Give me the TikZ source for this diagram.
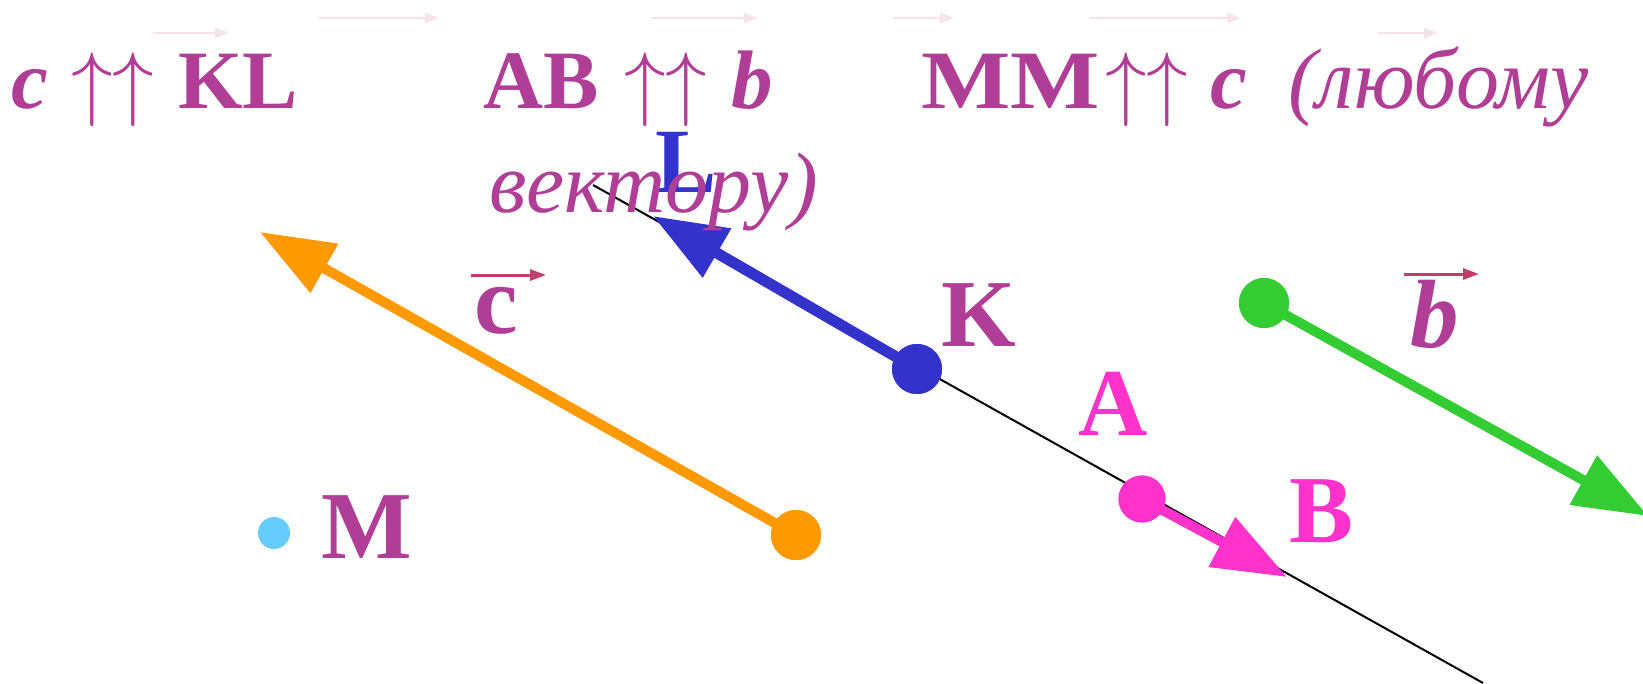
\documentclass[tikz,border=0pt]{standalone}
\usepackage{graphicx}
\usepackage{fontspec}
\setmainfont{Liberation Serif}
\usetikzlibrary{arrows.meta}
\definecolor{txt}{RGB}{176,62,150}
\definecolor{barC}{RGB}{192,62,104}
\definecolor{faint}{RGB}{245,228,236}
\definecolor{orangeC}{RGB}{255,153,0}
\definecolor{blueC}{RGB}{51,51,204}
\definecolor{pinkC}{RGB}{255,51,204}
\definecolor{greenC}{RGB}{51,204,51}
\definecolor{skyC}{RGB}{102,204,255}
\tikzset{
  toprow/.style={anchor=base west, inner sep=0pt, text=txt, font=\fontsize{83}{90}\selectfont\bfseries},
  topit/.style={toprow, font=\fontsize{83}{90}\selectfont\bfseries\itshape},
  uparr/.style={toprow, font=\fontsize{10}{12}\selectfont},
  rustext/.style={anchor=base west, inner sep=0pt, text=txt, font=\fontsize{86}{90}\selectfont\itshape},
  lbl/.style={anchor=base west, inner sep=0pt, font=\fontsize{96}{100}\selectfont\bfseries},
  dot/.style={circle, inner sep=0pt, minimum size=50pt},
  bigarrow/.style={line width=10pt, -{Triangle[length=74pt,width=54pt]}},
  barvec/.style={barC, line width=3pt, -{Triangle[length=16pt,width=11pt]}},
  faintvec/.style={faint, line width=2.5pt, -{Triangle[length=14pt,width=10pt]}},
}
\begin{document}
\begin{tikzpicture}[x=1pt,y=-1pt]
\useasboundingbox (0,0) rectangle (1643,683);
\fill[white] (0,0) rectangle (1643,683);

% faint arrows at the top
\coordinate (f1a) at (153,33);  \coordinate (f1b) at (229,33);
\coordinate (f2a) at (319,18);  \coordinate (f2b) at (439,18);
\coordinate (f3a) at (651,18);  \coordinate (f3b) at (758,18);
\coordinate (f4a) at (893,18);  \coordinate (f4b) at (954,18);
\coordinate (f5a) at (1090,18); \coordinate (f5b) at (1241,18);
\coordinate (f6a) at (1378,33); \coordinate (f6b) at (1438,33);
\foreach \i in {1,...,6} {\draw[faintvec] (f\i a) -- (f\i b);}

% black line
\coordinate (Ls) at (593,185);
\coordinate (Le) at (1483,683);
\draw[line width=2pt] (Ls) -- (Le);

% dots
\node[dot, fill=orangeC] (O) at (796,535) {};
\node[dot, fill=blueC] (K) at (917,369) {};
\node[dot, fill=pinkC, minimum size=47pt] (A) at (1142,499) {};
\node[dot, fill=greenC] (G) at (1264,303) {};
\node[dot, fill=skyC, minimum size=32pt] (Mdot) at (274,533) {};

% arrow tips
\coordinate (Otip) at (260,232);
\coordinate (Ktip) at (653,216);
\coordinate (Atip) at (1287,577);
\coordinate (Gtip) at (1648,516);

\draw[bigarrow, orangeC] (O.center) -- (Otip);
\draw[bigarrow, blueC, line width=11pt] (K.center) -- (Ktip);
\draw[bigarrow, pinkC] (A.center) -- (Atip);
\draw[bigarrow, greenC] (G.center) -- (Gtip);

\node[dot, fill=orangeC] at (O) {};
\node[dot, fill=blueC] at (K) {};
\node[dot, fill=pinkC, minimum size=47pt] at (A) {};
\node[dot, fill=greenC] at (G) {};

% point labels
\node[lbl, text=txt] (Klbl) at (941,346) {K};
\node[lbl, text=pinkC] (Albl) at (1078,435) {A};
\node[lbl, text=pinkC] (Blbl) at (1289,542) {B};
\node[lbl, text=txt] (Mlbl) at (321,558) {M};
\node[lbl, text=blueC, font=\fontsize{92}{100}\selectfont\bfseries] (Llbl) at (655,192) {L};

% vector names
\node[anchor=base west, inner sep=0pt, text=txt, font=\fontsize{98}{100}\selectfont\bfseries] (clbl) at (474,333) {c};
\node[anchor=base west, inner sep=0pt, text=txt, font=\fontsize{97}{100}\selectfont\bfseries\itshape] (blbl) at (1410,347) {b};
\coordinate (cva) at (471,275); \coordinate (cvb) at (546,275);
\coordinate (bva) at (1404,274); \coordinate (bvb) at (1479,274);
\draw[barvec] (cva) -- (cvb);
\draw[barvec] (bva) -- (bvb);

% top row
\node[topit] (t1) at (11,108) {c};
\node[uparr] (t2) at (71,110) {\scalebox{8.3}{$\uparrow\uparrow$}};
\node[toprow] (t3) at (178,108) {KL};
\node[toprow] (t4) at (483,108) {AB};
\node[uparr] (t5) at (624,110) {\scalebox{8.3}{$\uparrow\uparrow$}};
\node[topit] (t6) at (731,108) {b};
\node[toprow] (t7) at (921,108) {\scalebox{1.14}[1]{MM}};
\node[uparr] (t8) at (1105,110) {\scalebox{8.3}{$\uparrow\uparrow$}};
\node[topit] (t9) at (1210,108) {c};
\node[rustext] (t10) at (1288,108) {(любому};
\node[rustext] (t11) at (489,212) {вектору)};
\end{tikzpicture}
\end{document}
